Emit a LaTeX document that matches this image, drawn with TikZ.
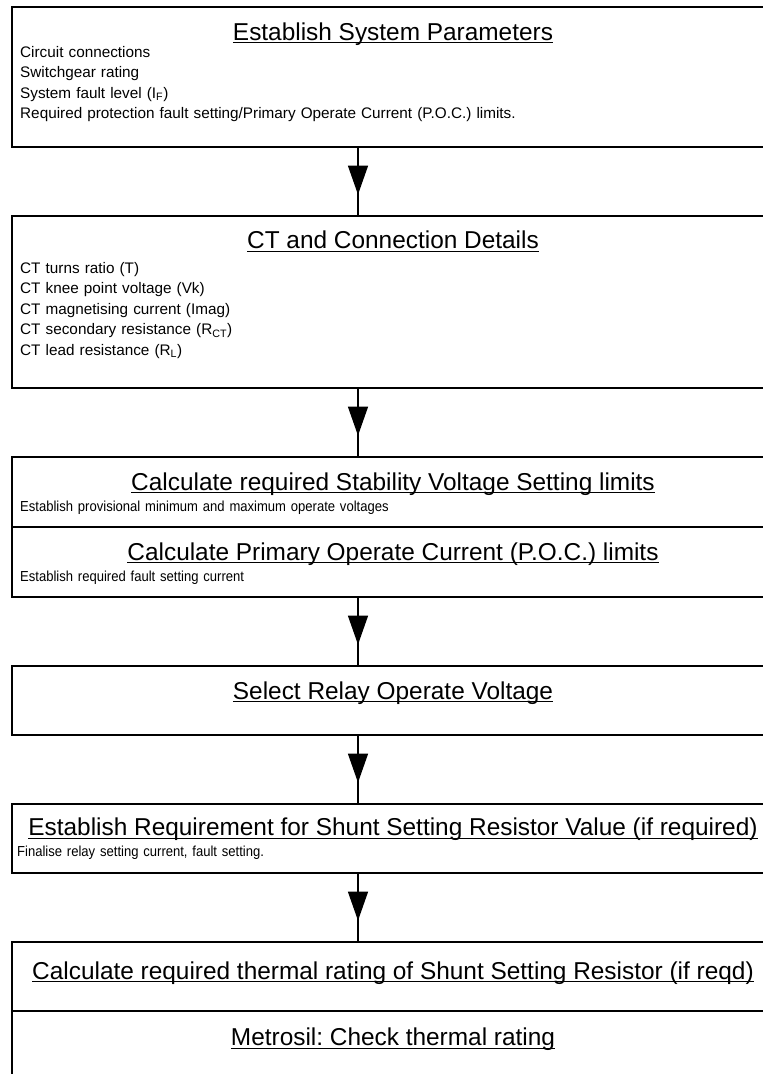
\documentclass[tikz,border=0pt]{standalone}
\usepackage{fontspec}
\setmainfont{Liberation Sans}
\newfontfamily\narrowfont{Liberation Sans}[FakeStretch=0.9]
\usetikzlibrary{positioning, arrows.meta, decorations.markings}
\frenchspacing

\newcommand{\hdline}[1]{\setbox0\hbox{#1}\rlap{\vrule height -2pt depth 3.4pt width \wd0}\box0}

\begin{document}
\begin{tikzpicture}[x=1pt,y=-1pt,node distance=69pt,
    box/.style={draw,line width=1.4pt,rectangle,minimum width=762pt,inner sep=0pt,outer sep=0pt},
    title/.style={anchor=base,inner sep=0pt,font=\fontsize{24.4}{28}\selectfont},
    body/.style={anchor=base west,inner sep=0pt,text width=740pt,align=left,font=\fontsize{15.3}{20.4}\selectfont},
    note/.style={body,font=\narrowfont\fontsize{14.5}{20.4}\selectfont},
    flow/.style={line width=1.3pt,postaction={decorate},
        decoration={markings,mark=at position 0.69 with {\arrow{Triangle[length=29pt,width=20pt]}}}}]

    \useasboundingbox (0,0) rectangle (763,1074);
    \clip (0,0) rectangle (763,1074);

    \node[box, minimum height=140pt, anchor=north west] (params) at (12,7) {};
    \node[box, minimum height=172pt, below=of params] (ct) {};
    \node[box, minimum height=70pt, below=of ct] (stab) {};
    \node[box, minimum height=70pt, below=0pt of stab] (poc) {};
    \node[box, minimum height=69pt, below=of poc] (relay) {};
    \node[box, minimum height=69pt, below=of relay] (shunt) {};
    \node[box, minimum height=69pt, below=of shunt] (therm) {};
    \node[box, minimum height=69pt, below=0pt of therm] (metro) {};

    \node[title] (paramsT) at ([yshift=-33pt]params.north) {\hdline{Establish System Parameters}};
    \node[body] (paramsB) at ([xshift=8pt,yshift=-50.5pt]params.north west)
        {Circuit connections\\ Switchgear rating\\ System fault level (I\textsubscript{F})\\
         Required protection fault setting/Primary Operate Current (P.O.C.) limits.};

    \node[title] (ctT) at ([yshift=-32.5pt]ct.north) {\hdline{CT and Connection Details}};
    \node[body] (ctB) at ([xshift=8pt,yshift=-57.5pt]ct.north west)
        {CT turns ratio (T)\\ CT knee point voltage (Vk)\\ CT magnetising current (Imag)\\
         CT secondary resistance (R\textsubscript{CT})\\ CT lead resistance (R\textsubscript{L})};

    \node[title] (stabT) at ([yshift=-33pt]stab.north) {\hdline{Calculate required Stability Voltage Setting limits}};
    \node[note] (stabB) at ([xshift=8pt,yshift=-54.5pt]stab.north west)
        {Establish provisional minimum and maximum operate voltages};

    \node[title] (pocT) at ([yshift=-33pt]poc.north) {\hdline{Calculate Primary Operate Current (P.O.C.) limits}};
    \node[note] (pocB) at ([xshift=8pt,yshift=-54.5pt]poc.north west)
        {Establish required fault setting current};

    \node[title] (relayT) at ([yshift=-33pt]relay.north) {\hdline{Select Relay Operate Voltage}};

    \node[title] (shuntT) at ([yshift=-31.5pt]shunt.north) {\hdline{Establish Requirement for Shunt Setting Resistor Value (if required)}};
    \node[note] (shuntB) at ([xshift=5pt,yshift=-52.5pt]shunt.north west)
        {Finalise relay setting current, fault setting.};

    \node[title] (thermT) at ([yshift=-37pt]therm.north) {\hdline{Calculate required thermal rating of Shunt Setting Resistor (if reqd)}};
    \node[title] (metroT) at ([yshift=-34.5pt]metro.north) {\hdline{Metrosil: Check thermal rating}};

    % flow arrows
    \draw[flow] ([xshift=-35pt]params.south) -- ([xshift=-35pt]ct.north);
    \draw[flow] ([xshift=-35pt]ct.south) -- ([xshift=-35pt]stab.north);
    \draw[flow] ([xshift=-35pt]poc.south) -- ([xshift=-35pt]relay.north);
    \draw[flow] ([xshift=-35pt]relay.south) -- ([xshift=-35pt]shunt.north);
    \draw[flow] ([xshift=-35pt]shunt.south) -- ([xshift=-35pt]therm.north);
\end{tikzpicture}
\end{document}
